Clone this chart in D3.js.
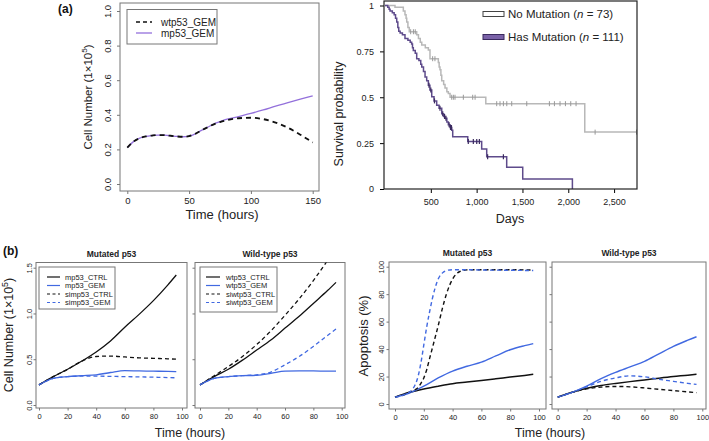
<!DOCTYPE html>
<html><head><meta charset="utf-8">
<script src="https://cdn.jsdelivr.net/npm/d3@7"></script>
<style>body{margin:0;background:#fff}svg{display:block}</style>
</head><body>
<svg id="c" width="709" height="441"></svg>
<script>
// ---------- Panel (a) left: simulated cell number ----------
const timeA = [0,5,10,15,20,25,30,35,40,45,50,55,60,65,70,75,80,90,100,110,120,130,140,150];
const wtp53GemA = [0.21,0.245,0.265,0.275,0.28,0.283,0.282,0.279,0.275,0.273,0.277,0.29,0.31,0.328,0.345,0.358,0.368,0.38,0.383,0.375,0.355,0.325,0.285,0.24];
const mp53GemA  = [0.21,0.245,0.265,0.275,0.28,0.283,0.282,0.279,0.275,0.273,0.277,0.29,0.31,0.328,0.347,0.36,0.373,0.39,0.408,0.428,0.45,0.47,0.49,0.51];
const xTicksA = [0,50,100,150];
const yTicksA = [0,0.2,0.4,0.6,0.8,1.0];

// ---------- Panel (a) right: Kaplan-Meier ----------
const kmNoMutDays = [0,109,200,218,230,237,250,265,346,365,385,401,440,473,491,582,591,600,610,619,640,655,675,691,710,1100,2180,2750];
const kmNoMutSurv = [1,0.99,0.97,0.95,0.93,0.91,0.88,0.857,0.84,0.82,0.80,0.785,0.77,0.757,0.71,0.69,0.665,0.65,0.62,0.59,0.57,0.55,0.53,0.52,0.50,0.465,0.31,0.31];
const kmNoMutCensor = [280,310,330,520,545,728,746,764,855,957,983,1219,1255,1292,1329,1383,1547,1794,1849,1910,1969,2027,2085,2293,2745];
const kmMutDays = [0,30,45,55,80,100,115,128,140,150,165,190,218,250,275,291,300,309,330,346,370,390,401,420,437,455,473,490,510,535,564,590,619,640,655,675,691,710,728,739,903,1055,1110,1328,1503,2045];
const kmMutSurv = [1,0.99,0.98,0.97,0.96,0.95,0.93,0.91,0.88,0.86,0.85,0.84,0.82,0.81,0.80,0.79,0.77,0.755,0.74,0.71,0.70,0.68,0.665,0.64,0.61,0.59,0.566,0.54,0.503,0.48,0.457,0.44,0.41,0.395,0.385,0.365,0.35,0.335,0.32,0.285,0.259,0.218,0.176,0.118,0.054,0];
const kmMutCensor = [480,500,540,600,630,650,665,700,715,725,909,964,1001,1030,1120,1292];
const kmXTicks = [500,1000,1500,2000,2500];
const kmYTicks = [0,0.25,0.5,0.75,1];

// ---------- Panel (b): cell number ----------
const timeB = [0,10,20,30,40,50,60,70,80,90,96];
const mp53Ctrl   = [0.22,0.31,0.39,0.48,0.58,0.70,0.85,0.99,1.14,1.31,1.42];
const mp53Gem    = [0.22,0.29,0.31,0.32,0.33,0.355,0.375,0.372,0.37,0.367,0.365];
const simp53Ctrl = [0.22,0.31,0.39,0.48,0.53,0.535,0.525,0.515,0.51,0.505,0.50];
const simp53Gem  = [0.22,0.29,0.31,0.315,0.315,0.313,0.31,0.307,0.304,0.30,0.297];
const wtp53Ctrl   = [0.22,0.31,0.39,0.49,0.60,0.71,0.84,0.97,1.11,1.25,1.34];
const wtp53Gem    = [0.22,0.29,0.31,0.32,0.325,0.345,0.37,0.372,0.372,0.37,0.37];
const siwtp53Ctrl = [0.22,0.32,0.42,0.53,0.66,0.81,0.98,1.16,1.36,1.58,1.72];
const siwtp53Gem  = [0.22,0.29,0.31,0.32,0.33,0.36,0.44,0.53,0.64,0.76,0.83];
const xTicksB = [0,20,40,60,80,100];
const yTicksCell = [0,0.5,1.0,1.5];

// ---------- Panel (b): apoptosis ----------
const timeSi = [0,8,12,14,16,18,20,22,24,26,28,30,33,36,40,45,50,60,80,96];
const apoMutCtrl   = [5,8.5,11,13,14.8,16,17.2,18.4,19.6,20.8,21.6];
const apoMutGem    = [5,8,13,19,24,27.5,30.5,35,39.5,42.5,44];
const apoMutSiCtrl = [5,7.5,9.5,10.5,12,15,19,25,33,41,49,57,70,81,91,96.5,97.7,97.8,97.8,97.6];
const apoMutSiGem  = [5,7.5,10.5,14,20,30,43,56,67,77,85,91,95.5,97.3,97.8,97.8,97.8,97.6,97.4,97.2];
const apoWtCtrl   = [5,8.5,11.5,13.5,15,16.3,17.5,18.8,20,21,21.7];
const apoWtGem    = [5,8.5,13,18.5,23,27,31,36.5,42,46.5,49];
const apoWtSiCtrl = [5,8.5,11,12.3,12.8,12.5,11.7,10.7,9.8,8.8,8.3];
const apoWtSiGem  = [5,8.5,12.5,16.5,19,20.5,19.8,18,16.5,15,14.3];
const yTicksApo = [0,20,40,60,80,100];

// ---------- drawing ----------
const FONT = "Arial, 'Liberation Sans', Helvetica, sans-serif";
const BLUE = "#4169e1", PURPLE = "#9370db";
const svg = d3.select("#c").style("font-family", FONT);
let clipId = 0;

function rPlot(cfg) {
  const [bx0, by0, bx1, by1] = cfg.box;
  const x = d3.scaleLinear().domain(cfg.xDom).range(cfg.xRange);
  const y = d3.scaleLinear().domain(cfg.yDom).range(cfg.yRange);
  const g = svg.append("g");
  const id = "clip" + (clipId++);
  g.append("clipPath").attr("id", id).append("rect")
    .attr("x", bx0).attr("y", by0).attr("width", bx1 - bx0).attr("height", by1 - by0);
  const ax = g.append("g").attr("transform", `translate(0,${by1})`)
    .call(d3.axisBottom(x).tickValues(cfg.xTicks).tickSize(cfg.tick).tickPadding(cfg.xPad).tickFormat(d3.format("d")));
  ax.select(".domain").remove();
  ax.selectAll("line").attr("stroke", cfg.axisColor);
  ax.selectAll("text").attr("font-size", cfg.fs).attr("fill", "#222").attr("font-family", FONT);
  const ay = g.append("g").attr("transform", `translate(${bx0},0)`)
    .call(d3.axisLeft(y).tickValues(cfg.yTicks).tickSize(cfg.tick).tickFormat(cfg.yFmt));
  ay.select(".domain").remove();
  ay.selectAll("line").attr("stroke", cfg.axisColor);
  if (cfg.showY) {
    ay.selectAll("text").attr("font-size", cfg.fs).attr("fill", "#222").attr("font-family", FONT)
      .attr("transform", "rotate(-90)").attr("x", 0).attr("y", -cfg.yOff).attr("dy", 0)
      .attr("text-anchor", "middle");
  } else {
    ay.selectAll("text").remove();
  }
  g.append("rect").attr("x", bx0).attr("y", by0).attr("width", bx1 - bx0).attr("height", by1 - by0)
    .attr("fill", "none").attr("stroke", cfg.axisColor).attr("stroke-width", 1);
  const plot = g.append("g").attr("clip-path", `url(#${id})`);
  if (cfg.title) {
    g.append("text").attr("x", (bx0 + bx1) / 2).attr("y", by0 - 6).attr("text-anchor", "middle")
      .attr("font-size", 8.5).attr("font-weight", "bold").attr("fill", "#222").text(cfg.title);
  }
  return {x, y, plot, g};
}

function series(P, t, v, color, dash, width) {
  const line = d3.line().x(d => P.x(d[0])).y(d => P.y(d[1])).curve(d3.curveMonotoneX);
  P.plot.append("path").attr("d", line(d3.zip(t, v))).attr("fill", "none")
    .attr("stroke", color).attr("stroke-width", width).attr("stroke-dasharray", dash || null);
}

function legend(g, box, rows, lineX, textX, fs) {
  const [x0, y0, x1, y1] = box;
  g.append("rect").attr("x", x0).attr("y", y0).attr("width", x1 - x0).attr("height", y1 - y0)
    .attr("fill", "#fff").attr("stroke", "#777").attr("stroke-width", 1);
  rows.forEach(r => {
    g.append("line").attr("x1", lineX[0]).attr("x2", lineX[1]).attr("y1", r.y).attr("y2", r.y)
      .attr("stroke", r.color).attr("stroke-width", r.width).attr("stroke-dasharray", r.dash || null);
    g.append("text").attr("x", textX).attr("y", r.y).attr("dy", "0.35em").attr("font-size", fs)
      .attr("fill", "#222").text(r.label);
  });
}

function cellLabel(x, y, fs) {
  const t = svg.append("text").attr("transform", `translate(${x},${y}) rotate(-90)`)
    .attr("text-anchor", "middle").attr("font-size", fs).attr("fill", "#222");
  t.append("tspan").text("Cell Number (1\u00d710");
  t.append("tspan").attr("dy", -fs * 0.4).attr("font-size", fs * 0.7).text("5");
  t.append("tspan").attr("dy", fs * 0.4).text(")");
}

// Panel labels
svg.append("text").attr("x", 58).attr("y", 13).attr("font-size", 12).attr("font-weight", "bold").attr("fill", "#111").text("(a)");
svg.append("text").attr("x", 3).attr("y", 255).attr("font-size", 12).attr("font-weight", "bold").attr("fill", "#111").text("(b)");

// ---- Panel a left ----
const PA = rPlot({box:[120,3,319,191], xDom:[0,150], xRange:[127.3,312.7], yDom:[0,1], yRange:[184,11],
  xTicks:xTicksA, yTicks:yTicksA, yFmt:d3.format(".1f"), showY:true, fs:9.5, tick:3, xPad:3, yOff:9, axisColor:"#777"});
series(PA, timeA, mp53GemA, PURPLE, null, 1.3);
series(PA, timeA, wtp53GemA, "#111", "5,4", 1.8);
legend(PA.g, [127,9.5,217,44], [
  {y:22, color:"#111", dash:"4,3", width:1.5, label:"wtp53_GEM"},
  {y:33, color:PURPLE, width:1.3, label:"mp53_GEM"}], [136,152], 161, 10);
cellLabel(92, 97, 11.5);
svg.append("text").attr("x", 222).attr("y", 219).attr("text-anchor", "middle").attr("font-size", 13).attr("fill", "#222").text("Time (hours)");

// ---- Panel a right: KM ----
{
  const bx0 = 384, by0 = 1, bx1 = 637, by1 = 189;
  const x = d3.scaleLinear().domain([0, 2750]).range([385, 637]);
  const y = d3.scaleLinear().domain([0, 1]).range([189, 5.5]);
  const g = svg.append("g");
  const ax = g.append("g").attr("transform", `translate(0,${by1})`)
    .call(d3.axisBottom(x).tickValues(kmXTicks).tickSize(4).tickPadding(6).tickFormat(d3.format(",")));
  ax.select(".domain").remove();
  ax.selectAll("text").attr("font-size", 9).attr("fill", "#222").attr("font-family", FONT);
  const ay = g.append("g").attr("transform", `translate(${bx0},0)`)
    .call(d3.axisLeft(y).tickValues(kmYTicks).tickSize(4).tickPadding(6).tickFormat(d => String(d)));
  ay.select(".domain").remove();
  ay.selectAll("text").attr("font-size", 9).attr("fill", "#222").attr("font-family", FONT);
  const step = d3.line().x(d => x(d[0])).y(d => y(d[1])).curve(d3.curveStepAfter);
  const survAt = (days, surv, t) => { let s = surv[0]; days.forEach((d, i) => { if (d <= t) s = surv[i]; }); return s; };
  g.append("path").attr("d", step(d3.zip(kmNoMutDays, kmNoMutSurv))).attr("fill", "none").attr("stroke", "#b8b8b8").attr("stroke-width", 1.5);
  g.selectAll(".cg").data(kmNoMutCensor).join("line")
    .attr("x1", d => x(d)).attr("x2", d => x(d))
    .attr("y1", d => y(survAt(kmNoMutDays, kmNoMutSurv, d)) - 2.5).attr("y2", d => y(survAt(kmNoMutDays, kmNoMutSurv, d)) + 2.5)
    .attr("stroke", "#999").attr("stroke-width", 1);
  g.append("path").attr("d", step(d3.zip(kmMutDays, kmMutSurv))).attr("fill", "none").attr("stroke", "#5e4b8b").attr("stroke-width", 1.5);
  g.selectAll(".cm").data(kmMutCensor).join("line")
    .attr("x1", d => x(d)).attr("x2", d => x(d))
    .attr("y1", d => y(survAt(kmMutDays, kmMutSurv, d)) - 2.5).attr("y2", d => y(survAt(kmMutDays, kmMutSurv, d)) + 2.5)
    .attr("stroke", "#3a2a5e").attr("stroke-width", 1.2);
  g.append("rect").attr("x", bx0).attr("y", by0).attr("width", bx1 - bx0).attr("height", by1 - by0)
    .attr("fill", "none").attr("stroke", "#222").attr("stroke-width", 1.2);
  g.append("rect").attr("x", 483).attr("y", 11.5).attr("width", 21).attr("height", 5).attr("fill", "#fff").attr("stroke", "#444").attr("stroke-width", 1);
  g.append("rect").attr("x", 483).attr("y", 34.5).attr("width", 21).attr("height", 5).attr("fill", "#7a62a8").attr("stroke", "#3a2a5e").attr("stroke-width", 1);
  const l1 = g.append("text").attr("x", 508).attr("y", 14).attr("dy", "0.35em").attr("font-size", 11.5).attr("fill", "#222");
  l1.append("tspan").text("No Mutation (");
  l1.append("tspan").attr("font-style", "italic").text("n");
  l1.append("tspan").text(" = 73)");
  const l2 = g.append("text").attr("x", 508).attr("y", 37).attr("dy", "0.35em").attr("font-size", 11.5).attr("fill", "#222");
  l2.append("tspan").text("Has Mutation (");
  l2.append("tspan").attr("font-style", "italic").text("n");
  l2.append("tspan").text(" = 111)");
  svg.append("text").attr("transform", "translate(343,114) rotate(-90)").attr("text-anchor", "middle")
    .attr("font-size", 12.5).attr("fill", "#222").text("Survival probability");
  svg.append("text").attr("x", 510).attr("y", 223).attr("text-anchor", "middle").attr("font-size", 12.5).attr("fill", "#222").text("Days");
}

// ---- Panel b ----
const common = {xDom:[0,100], xTicks:xTicksB, fs:7.5, tick:2.5, xPad:3, yOff:4, axisColor:"#777"};
const P1 = rPlot(Object.assign({}, common, {box:[36,262.5,187,408], xRange:[39,182], yDom:[0,1.5], yRange:[405,267.7],
  yTicks:yTicksCell, yFmt:d3.format(".1f"), showY:true, title:"Mutated p53"}));
series(P1, timeB, mp53Ctrl, "#111", null, 1.3);
series(P1, timeB, mp53Gem, BLUE, null, 1.3);
series(P1, timeB, simp53Ctrl, "#111", "4,3", 1.3);
series(P1, timeB, simp53Gem, BLUE, "4,3", 1.3);
legend(P1.g, [39,267,115,309], [
  {y:277, color:"#111", width:1.2, label:"mp53_CTRL"},
  {y:285.5, color:BLUE, width:1.2, label:"mp53_GEM"},
  {y:294, color:"#111", dash:"3,2.5", width:1.2, label:"simp53_CTRL"},
  {y:302.5, color:BLUE, dash:"3,2.5", width:1.2, label:"simp53_GEM"}], [47,60], 65, 7.5);

const P2 = rPlot(Object.assign({}, common, {box:[195,262.5,345,408], xRange:[200,341.7], yDom:[0,1.5], yRange:[405,267.7],
  yTicks:yTicksCell, yFmt:d3.format(".1f"), showY:false, title:"Wild-type p53"}));
series(P2, timeB, wtp53Ctrl, "#111", null, 1.3);
series(P2, timeB, wtp53Gem, BLUE, null, 1.3);
series(P2, timeB, siwtp53Ctrl, "#111", "4,3", 1.3);
series(P2, timeB, siwtp53Gem, BLUE, "4,3", 1.3);
legend(P2.g, [200,267,277,312], [
  {y:277, color:"#111", width:1.2, label:"wtp53_CTRL"},
  {y:285.5, color:BLUE, width:1.2, label:"wtp53_GEM"},
  {y:294, color:"#111", dash:"3,2.5", width:1.2, label:"siwtp53_CTRL"},
  {y:302.5, color:BLUE, dash:"3,2.5", width:1.2, label:"siwtp53_GEM"}], [206,220], 226, 7.5);

cellLabel(13, 335, 12.5);
svg.append("text").attr("x", 190).attr("y", 437).attr("text-anchor", "middle").attr("font-size", 12.5).attr("fill", "#222").text("Time (hours)");

const P3 = rPlot(Object.assign({}, common, {box:[389,262,546,409], xRange:[395,539], yDom:[0,100], yRange:[404,266.7],
  yTicks:yTicksApo, yFmt:d3.format("d"), showY:true, yOff:5, title:"Mutated p53"}));
series(P3, timeB, apoMutCtrl, "#111", null, 1.5);
series(P3, timeB, apoMutGem, BLUE, null, 1.4);
series(P3, timeSi, apoMutSiCtrl, "#111", "4,3", 1.4);
series(P3, timeSi, apoMutSiGem, BLUE, "4,3", 1.4);

const P4 = rPlot(Object.assign({}, common, {box:[552,262,706,409], xRange:[557.7,702.3], yDom:[0,100], yRange:[404,266.7],
  yTicks:yTicksApo, yFmt:d3.format("d"), showY:false, title:"Wild-type p53"}));
series(P4, timeB, apoWtCtrl, "#111", null, 1.5);
series(P4, timeB, apoWtGem, BLUE, null, 1.4);
series(P4, timeB, apoWtSiCtrl, "#111", "4,3", 1.4);
series(P4, timeB, apoWtSiGem, BLUE, "4,3", 1.4);

svg.append("text").attr("transform", "translate(368,336) rotate(-90)").attr("text-anchor", "middle")
  .attr("font-size", 13).attr("fill", "#222").text("Apoptosis (%)");
svg.append("text").attr("x", 550).attr("y", 437).attr("text-anchor", "middle").attr("font-size", 12.5).attr("fill", "#222").text("Time (hours)");
</script>
</body></html>
